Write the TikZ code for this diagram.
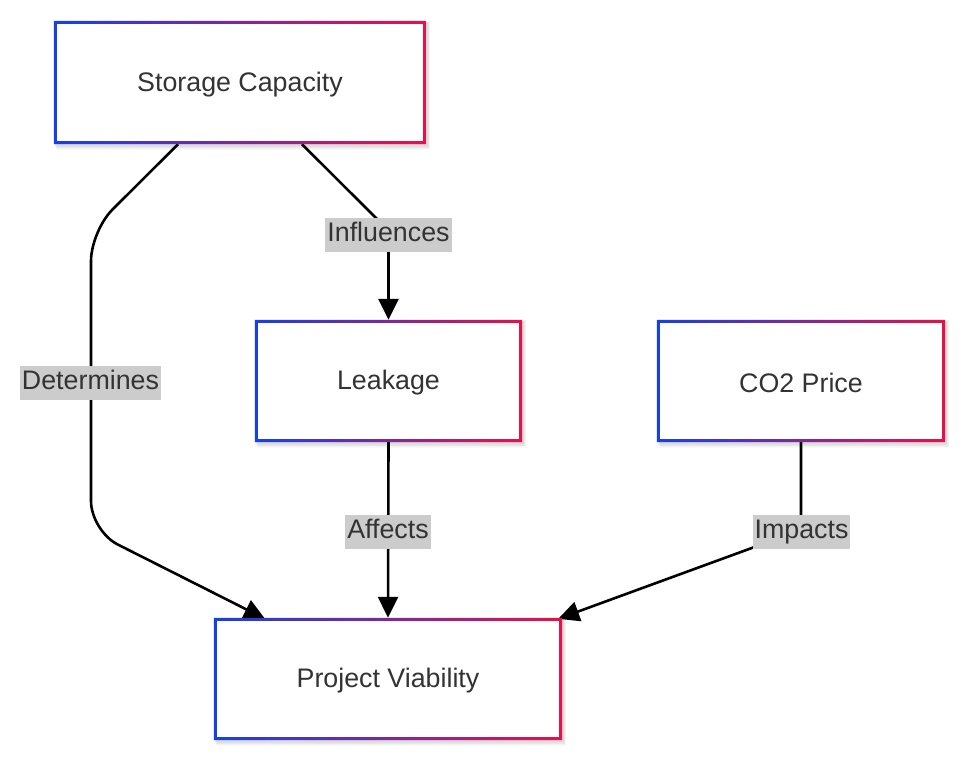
\documentclass[tikz,border=0pt]{standalone}
\usepackage{fontspec}
\setmainfont{Liberation Sans}
\usetikzlibrary{arrows.meta,calc}
\definecolor{cblue}{RGB}{22,64,232}
\definecolor{cred}{RGB}{232,16,72}
\definecolor{ctext}{RGB}{51,51,51}
\definecolor{clabel}{RGB}{204,204,204}
\newcommand\gframe[1]{%
  \foreach \k in {1,...,6}{%
    \fill[black,opacity=0.025] ([shift={(0.5*\k,0.8*\k+1)}]#1.south west) rectangle ([shift={(0.5*\k+1,-0.3*\k+2)}]#1.north east);}
  \fill[white] (#1.south west) rectangle (#1.north east);
  \shade[left color=cblue, right color=cred, even odd rule]
    (#1.south west) rectangle (#1.north east)
    ([shift={(3,-3)}]#1.south west) rectangle ([shift={(-3,3)}]#1.north east);
  \node[boxtext] at ([yshift=-2pt]#1.center) {\csname txt#1\endcsname};}
\tikzset{
  boxtext/.style={text=ctext, font=\fontsize{26.8}{30}\selectfont},
  box/.style={minimum width=#1, inner sep=0pt, minimum height=122pt},
  elabel/.style={fill=clabel, text=ctext, font=\fontsize{26.8}{30}\selectfont,
    inner xsep=2pt, inner ysep=4.5pt, text height=19pt, text depth=6pt},
  edge/.style={line width=2.6pt, black, rounded corners=30pt},
  tip/.style={-{Triangle[length=21pt,width=20pt]}}
}
\def\txtsc{Storage Capacity}
\def\txtlk{Leakage}
\def\txtco{CO2 Price}
\def\txtpv{Project Viability}
\begin{document}
\begin{tikzpicture}[x=1pt,y=-1pt]
\useasboundingbox[fill=white] (0,0) rectangle (969,764);
\node[box=372pt, minimum height=123pt] (sc) at (240,82.5) {};
\node[box=267pt] (lk) at (388.5,381) {};
\node[box=288pt] (co) at (801,381) {};
\node[box=348pt] (pv) at (388,679) {};
\coordinate (d1) at ($(sc.south)+(-62,0)$);
\coordinate (d2) at ($(pv.north)+(-123,1)$);
\coordinate (i1) at ($(sc.south)+(62,0)$);
\coordinate (p2) at ($(pv.north east)+(-4,1)$);
% edges
\draw[edge,tip] (d1) -- (91,231) -- (91,531) -- (d2);
\draw[edge,tip,rounded corners=14pt] (i1) -- (388.5,230.5) -- (lk.north);
\draw[edge,tip] (lk.south) -- (pv.north);
\draw[edge,tip,rounded corners=14pt] (co.south) -- (801,530) -- (p2);
% boxes
\gframe{sc}
\gframe{lk}
\gframe{co}
\gframe{pv}
% labels
\node[elabel] (l1) at (90.5,383) {Determines};
\node[elabel] (l2) at (388.5,235) {Influences};
\node[elabel] (l3) at (388,532) {Affects};
\node[elabel] (l4) at (801.5,532) {Impacts};
\end{tikzpicture}
\end{document}
